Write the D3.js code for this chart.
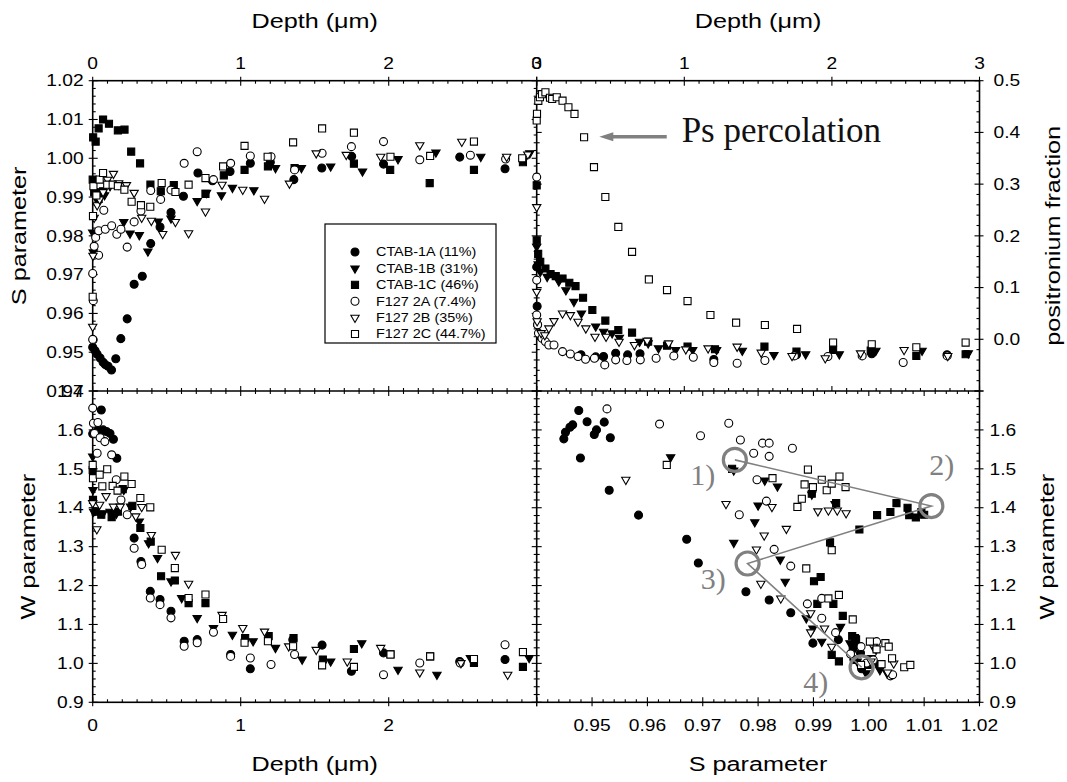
<!DOCTYPE html>
<html><head><meta charset="utf-8">
<script src="https://cdn.jsdelivr.net/npm/d3@7"></script>
<style>html,body{margin:0;padding:0;background:#fff;} svg{display:block}</style>
</head><body>
<svg id="chart" width="1067" height="782"></svg>
<script>
// ---------------- DATA ----------------
const seriesNames = ["CTAB-1A (11%)", "CTAB-1B (31%)", "CTAB-1C (46%)", "F127 2A (7.4%)", "F127 2B (35%)", "F127 2C (44.7%)"];

const depthTicks = [0, 1, 2, 3];
const sTicks = [0.94, 0.95, 0.96, 0.97, 0.98, 0.99, 1.00, 1.01, 1.02];
const wTicks = [0.9, 1.0, 1.1, 1.2, 1.3, 1.4, 1.5, 1.6, 1.7];
const fracTicks = [0.0, 0.1, 0.2, 0.3, 0.4, 0.5];

// Panel A: [depth (um), S parameter]
const sDepth1A = [[0.000,0.9513],[0.003,0.9532],[0.016,0.9504],[0.03,0.9495],[0.050,0.9485],[0.07,0.9474],[0.085,0.9468],[0.104,0.9464],[0.127,0.9454],[0.156,0.9483],[0.19,0.9535],[0.233,0.9586],[0.28,0.9675],[0.335,0.9696],[0.392,0.978],[0.455,0.9823],[0.529,0.986],[0.613,0.9902],[0.711,0.9962],[0.809,0.9942],[0.928,0.9966],[1.065,0.9987],[1.20,0.9990],[1.359,0.9945],[1.548,0.9975],[1.75,1.0005],[1.965,0.9985],[2.48,1.0003],[2.786,0.9973]];
const sDepth1B = [[0.000,0.9809],[0.004,0.9758],[0.02,0.9900],[0.05,0.9915],[0.08,0.9905],[0.117,0.9928],[0.175,0.9932],[0.21,0.9836],[0.252,0.9806],[0.315,0.9802],[0.373,0.976],[0.443,0.9837],[0.529,0.9845],[0.706,0.9890],[0.769,0.9911],[0.87,0.9905],[0.944,0.9924],[1.089,0.9918],[1.235,0.9975],[1.41,0.9975],[1.608,0.9979],[1.823,0.9966],[2.063,0.9998],[2.319,1.0015],[2.622,1.0004],[2.953,1.0013]];
const sDepth1C = [[0.000,0.9945],[0.01,0.9912],[0.003,1.0054],[0.02,1.0043],[0.04,1.0077],[0.04,0.9895],[0.07,0.9915],[0.07,1.0100],[0.11,1.0089],[0.17,1.0072],[0.215,1.0074],[0.26,1.0017],[0.32,0.9987],[0.39,0.9932],[0.46,0.9915],[0.548,0.9931],[0.762,0.9908],[0.886,0.9956],[1.026,0.997],[1.184,0.9979],[1.364,0.9975],[1.765,0.9986],[2.01,0.997],[2.277,0.9936],[2.576,0.997],[2.907,0.999]];
const sDepth2A = [[0.000,0.9703],[0.004,0.9633],[0.000,0.9533],[0.01,0.9773],[0.02,0.9796],[0.04,0.9750],[0.04,0.9813],[0.075,0.9866],[0.085,0.9817],[0.128,0.9826],[0.163,0.9804],[0.191,0.9817],[0.233,0.9771],[0.28,0.9836],[0.326,0.9864],[0.392,0.9917],[0.459,0.9894],[0.529,0.9918],[0.618,0.9987],[0.706,1.0017],[0.816,0.9945],[0.932,0.9987],[1.065,1.0006],[1.205,1.0004],[1.364,0.997],[1.55,1.0013],[1.748,1.003],[1.965,1.0043],[2.21,0.9996],[2.552,1.0008],[2.79,0.9998]];
const sDepth2B = [[0.000,0.9566],[0.002,0.9749],[0.01,0.9847],[0.03,0.9879],[0.047,0.9894],[0.07,0.9913],[0.10,0.9945],[0.14,0.996],[0.175,0.9936],[0.228,0.9931],[0.28,0.9911],[0.331,0.9847],[0.396,0.9839],[0.473,0.9805],[0.559,0.9836],[0.648,0.9807],[0.762,0.9863],[0.874,0.9932],[1.014,0.9919],[1.161,0.9896],[1.329,0.9935],[1.51,1.0013],[1.713,1.0009],[1.946,1.0004],[2.21,1.0034],[2.494,1.0043],[2.797,1.0004],[2.94,1.0010]];
const sDepth2C = [[0.000,0.9643],[0.002,0.9851],[0.005,0.9928],[0.025,0.9904],[0.047,0.9945],[0.07,0.9962],[0.098,0.9932],[0.135,0.9932],[0.17,0.9928],[0.214,0.9919],[0.263,0.9888],[0.326,0.9879],[0.389,0.9875],[0.466,0.9936],[0.559,0.9913],[0.648,0.9932],[0.762,0.9949],[0.881,0.9979],[1.026,1.0032],[1.182,1.0004],[1.354,1.0041],[1.55,1.0077],[1.765,1.0066],[2.012,1.0004],[2.28,1.0006],[2.576,1.0043],[2.902,1.000]];

// Panel B: [depth (um), positronium fraction]
const fDepth1A = [[0.000,0.140],[0.003,0.064],[0.006,0.028],[0.03,0.005],[0.30,-0.030],[0.40,-0.034],[0.453,-0.0334],[0.535,-0.027],[0.616,-0.0302],[0.70,-0.028],[1.20,-0.039],[1.76,-0.030],[2.27,-0.028],[2.78,-0.030]];
const fDepth1B = [[0.000,0.179],[0.01,0.145],[0.024,0.1305],[0.071,0.1208],[0.15,0.112],[0.198,0.0951],[0.252,0.0726],[0.303,0.05],[0.40,0.025],[0.453,0.0148],[0.511,0.0116],[0.56,0.003],[0.697,-0.0045],[0.755,-0.0077],[0.825,-0.0173],[0.941,-0.0206],[1.057,-0.0206],[1.219,-0.0206],[1.393,-0.0219],[1.607,-0.0302],[1.822,-0.0289],[2.05,-0.0289],[2.298,-0.0219],[2.611,-0.0219],[2.924,-0.027]];
const fDepth1C = [[0.000,0.2976],[0.000,0.1915],[0.01,0.165],[0.024,0.1497],[0.059,0.1369],[0.094,0.126],[0.129,0.1221],[0.175,0.1176],[0.221,0.1093],[0.263,0.1028],[0.314,0.0803],[0.377,0.0566],[0.465,0.036],[0.553,0.018],[0.646,0.0129],[0.755,-0.0045],[0.883,-0.0122],[1.022,-0.0141],[1.208,-0.0193],[1.543,-0.0141],[1.76,-0.0238],[2.008,-0.0206],[2.263,-0.0219],[2.572,-0.0321],[2.906,-0.0289]];
const fDepth2A = [[0.000,0.3136],[0.000,0.1144],[0.000,0.047],[0.006,0.028],[0.012,0.0116],[0.036,0.002],[0.059,-0.0045],[0.082,-0.011],[0.117,-0.011],[0.175,-0.0238],[0.228,-0.0283],[0.28,-0.0334],[0.331,-0.0386],[0.391,-0.0366],[0.461,-0.0495],[0.535,-0.0398],[0.611,-0.0411],[0.702,-0.0398],[0.809,-0.0366],[0.929,-0.0321],[1.061,-0.0347],[1.2,-0.045],[1.358,-0.0463],[1.546,-0.0411],[1.746,-0.0321],[1.973,-0.0334],[2.205,-0.0321],[2.483,-0.045],[2.781,-0.0321]];
const fDepth2B = [[0.000,0.2558],[0.000,0.0919],[0.003,0.035],[0.03,0.012],[0.055,0.008],[0.082,0.0212],[0.117,0.0353],[0.175,0.05],[0.228,0.0469],[0.28,0.034],[0.333,0.0212],[0.395,0.0051],[0.47,0.0051],[0.558,-0.0045],[0.662,-0.011],[0.748,-0.0026],[0.894,-0.0077],[1.01,-0.0193],[1.161,-0.0173],[1.358,-0.0141],[1.521,-0.0257],[1.73,-0.0321],[1.955,-0.0366],[2.194,-0.027],[2.489,-0.0206],[2.785,-0.0321]];
const fDepth2C = [[0.000,0.423],[0.002,0.436],[0.011,0.461],[0.022,0.468],[0.036,0.474],[0.059,0.4775],[0.09,0.467],[0.105,0.4647],[0.136,0.468],[0.175,0.4614],[0.215,0.4486],[0.256,0.4357],[0.321,0.3907],[0.388,0.3329],[0.465,0.2751],[0.553,0.2172],[0.646,0.169],[0.76,0.1157],[0.883,0.0951],[1.022,0.0739],[1.177,0.0469],[1.351,0.0321],[1.546,0.0276],[1.764,0.02],[2.008,-0.0064],[2.27,-0.0096],[2.572,-0.0154],[2.906,-0.0064]];

// Panel C: [depth (um), W parameter]
const wDepth1A = [[0.000,1.59],[0.035,1.60],[0.058,1.651],[0.07,1.60],[0.093,1.596],[0.117,1.591],[0.14,1.576],[0.163,1.527],[0.28,1.322],[0.326,1.262],[0.389,1.185],[0.455,1.164],[0.529,1.134],[0.618,1.057],[0.706,1.061],[0.932,1.023],[1.065,0.986],[1.352,1.061],[1.55,1.047],[1.748,0.98],[1.965,1.027],[2.48,1.005],[2.786,1.01]];
const wDepth1B = [[0.000,1.532],[0.002,1.446],[0.006,1.39],[0.07,1.386],[0.117,1.39],[0.16,1.385],[0.21,1.446],[0.256,1.403],[0.315,1.365],[0.378,1.309],[0.438,1.271],[0.529,1.211],[0.601,1.168],[0.706,1.117],[0.816,1.091],[0.944,1.074],[1.084,1.057],[1.235,1.04],[1.415,1.01],[1.608,1.005],[1.818,1.052],[2.063,0.984],[2.326,0.971],[2.552,1.014],[2.949,1.014]];
const wDepth1C = [[0.000,1.497],[0.002,1.42],[0.02,1.39],[0.058,1.382],[0.128,1.376],[0.17,1.39],[0.203,1.448],[0.268,1.405],[0.322,1.348],[0.392,1.313],[0.462,1.224],[0.555,1.213],[0.648,1.155],[0.762,1.155],[1.03,1.065],[1.189,1.07],[1.357,1.065],[1.555,1.01],[1.765,1.037],[2.012,1.023],[2.28,1.018],[2.576,1.001],[2.907,0.991]];
const wDepth2A = [[0.000,1.656],[0.005,1.617],[0.012,1.591],[0.035,1.619],[0.03,1.54],[0.05,1.58],[0.082,1.57],[0.128,1.536],[0.159,1.472],[0.191,1.42],[0.233,1.382],[0.28,1.296],[0.331,1.254],[0.389,1.168],[0.455,1.151],[0.529,1.117],[0.618,1.044],[0.706,1.053],[0.816,1.08],[0.932,1.018],[1.065,1.014],[1.205,0.997],[1.364,1.023],[1.965,0.971],[2.21,1.001],[2.483,1.001],[2.786,1.048]];
const wDepth2B = [[0.000,1.412],[0.028,1.345],[0.047,1.408],[0.09,1.43],[0.14,1.403],[0.186,1.403],[0.291,1.378],[0.331,1.402],[0.396,1.33],[0.559,1.279],[0.648,1.205],[0.874,1.125],[1.014,1.091],[1.161,1.082],[1.324,1.044],[1.51,1.035],[1.72,1.005],[1.946,1.04],[2.21,0.977],[2.488,1.001],[2.804,0.971]];
const wDepth2C = [[0.000,1.51],[0.002,1.476],[0.047,1.485],[0.065,1.455],[0.098,1.499],[0.135,1.456],[0.168,1.444],[0.214,1.48],[0.263,1.461],[0.322,1.425],[0.389,1.401],[0.466,1.292],[0.555,1.245],[0.648,1.168],[0.762,1.177],[0.881,1.114],[1.026,1.053],[1.184,1.057],[1.354,1.044],[1.55,0.995],[1.765,0.991],[2.012,1.023],[2.28,1.018],[2.576,1.011],[2.907,1.029]];

// Panel D: [S parameter, W parameter]
const sw1A = [[0.9449,1.577],[0.9452,1.594],[0.9460,1.607],[0.9465,1.613],[0.9476,1.650],[0.9479,1.528],[0.9491,1.621],[0.9504,1.588],[0.9508,1.600],[0.9522,1.620],[0.9533,1.580],[0.9531,1.445],[0.9584,1.381],[0.9671,1.319],[0.9692,1.258],[0.9778,1.184],[0.9820,1.163],[0.9859,1.130],[0.9899,1.052],[0.9945,1.061],[0.9975,1.047],[0.9987,0.986],[0.9985,1.027],[1.0003,1.005],[0.9973,1.010]];
const sw1B = [[0.9642,1.530],[0.9756,1.496],[0.9812,1.470],[0.9835,1.455],[0.9800,1.406],[0.9794,1.363],[0.9756,1.310],[0.9840,1.267],[0.9849,1.210],[0.9887,1.116],[0.9899,1.090],[0.9915,1.056],[0.9949,1.094],[0.9897,1.434],[0.9939,1.410],[1.0014,1.000],[1.0020,0.983],[0.9995,0.975],[1.0033,0.975],[0.9975,1.040],[0.9979,1.005],[0.9966,1.052],[1.0004,1.014]];
const sw1C = [[0.9753,1.500],[0.9897,1.436],[0.9941,1.412],[0.9983,1.344],[1.0015,1.381],[1.0039,1.389],[1.0050,1.412],[1.0070,1.400],[1.0073,1.381],[1.0085,1.375],[1.0095,1.389],[1.0100,1.382],[0.9930,1.311],[0.9901,1.211],[0.9913,1.222],[0.9907,1.153],[0.9936,1.153],[0.9953,1.122],[0.9977,1.062],[0.9933,1.022],[0.9946,1.005],[0.9971,1.043],[1.0002,0.996],[0.9975,1.065],[0.9970,1.070]];
const sw2A = [[0.9527,1.654],[0.9622,1.615],[0.9696,1.585],[0.9747,1.617],[0.9768,1.574],[0.9792,1.540],[0.9808,1.566],[0.9820,1.566],[0.9820,1.532],[0.9862,1.553],[0.9798,1.472],[0.9815,1.417],[0.9766,1.382],[0.9829,1.293],[0.9859,1.250],[0.9889,1.153],[0.9915,1.167],[0.9915,1.116],[0.9940,1.079],[0.9967,1.024],[0.9986,1.043],[1.0014,1.056],[1.0039,0.968],[1.0008,1.009],[0.9996,1.001],[1.0043,0.971]];
const sw2B = [[0.9561,1.472],[0.9742,1.410],[0.9825,1.402],[0.9811,1.329],[0.9851,1.346],[0.9797,1.293],[0.9805,1.205],[0.9841,1.167],[0.9895,1.129],[0.9920,1.090],[0.9895,1.080],[0.9908,1.391],[0.9927,1.393],[0.9943,1.393],[0.9959,1.386],[0.9933,1.043],[1.0008,1.043],[1.0045,1.000],[1.0013,1.035],[1.0004,1.005],[1.0034,0.977]];
const sw2C = [[0.9635,1.510],[0.9826,1.476],[0.9871,1.402],[0.9879,1.423],[0.9884,1.460],[0.9890,1.498],[0.9899,1.453],[0.9915,1.472],[0.9924,1.445],[0.9933,1.462],[0.9947,1.480],[0.9958,1.453],[0.9933,1.291],[0.9887,1.244],[0.9927,1.167],[0.9946,1.176],[0.9971,1.113],[1.0002,1.056],[1.0014,1.036],[1.0030,1.052],[1.0036,1.043],[1.0042,1.013],[1.0023,0.998],[1.0064,0.990],[1.0075,0.996],[0.9986,0.996]];

// Annotations (panel D): circled stages and labels
const stageS = [0.9758, 1.0113, 0.9781, 0.9987];
const stageW = [1.523, 1.4044, 1.2567, 0.990];
const stageLabels = ["1)", "2)", "3)", "4)"];
const stageLabelS = [0.9700, 1.0132, 0.9719, 0.9904];
const stageLabelW = [1.483, 1.509, 1.218, 0.951];
// Annotation (panel B): arrow and text
const psArrowDepth = [0.881, 0.424];
const psArrowFrac = 0.3917;
const psText = "Ps percolation";

// ---------------- LAYOUT ----------------
const L = 92.7, M = 536.7, R = 979.5, T = 80.7, H = 391, B = 702.3;
const SANS = "'Liberation Sans', Arial, Helvetica, sans-serif";
const SERIF = "'Liberation Serif', 'Times New Roman', serif";
const SX = 1.2; // horizontal widening of sans glyphs

const xDepL = d3.scaleLinear().domain([0, 3]).range([L, M]);
const xDepR = d3.scaleLinear().domain([0, 3]).range([M, R]);
const xS = d3.scaleLinear().domain([0.94, 1.02]).range([M, R]);
const yS = d3.scaleLinear().domain([0.94, 1.02]).range([H, T]);
const yF = d3.scaleLinear().domain([-0.1, 0.5]).range([H, T]);
const yW = d3.scaleLinear().domain([0.9, 1.7]).range([B, H]);

const svg = d3.select("#chart");
svg.append("rect").attr("width", 1067).attr("height", 782).attr("fill", "#fff");

function txt(g, x, y, s, o) {
  o = o || {};
  let tr = `translate(${x},${y})`;
  if (o.rot) tr += ` rotate(${o.rot})`;
  tr += ` scale(${o.sx || 1},1)`;
  return g.append("text").attr("transform", tr)
    .attr("text-anchor", o.anchor || "start")
    .attr("font-family", o.family || SANS)
    .attr("font-size", o.size || 16)
    .attr("fill", o.fill || "#000")
    .text(s);
}

function minorVals(d0, d1, step, majors) {
  const n = Math.round((d1 - d0) / step);
  const out = [];
  for (let i = 0; i <= n; i++) {
    const v = +(d0 + i * step).toFixed(6);
    if (!majors.some(m => Math.abs(m - v) < step / 10)) out.push(v);
  }
  return out;
}

const tickG = svg.append("g").attr("stroke", "#000").attr("stroke-width", 1.1);
const MAJ = 5, MIN = 3;
function vTicks(x, scale, majors, minors, dir, out) {
  majors.forEach(v => { const y = scale(v);
    tickG.append("line").attr("x1", x - dir * out).attr("x2", x + dir * MAJ).attr("y1", y).attr("y2", y); });
  minors.forEach(v => { const y = scale(v);
    tickG.append("line").attr("x1", x).attr("x2", x + dir * MIN).attr("y1", y).attr("y2", y); });
}
function hTicks(y, scale, majors, minors, dir, out) {
  majors.forEach(v => { const x = scale(v);
    tickG.append("line").attr("y1", y - dir * out).attr("y2", y + dir * MAJ).attr("x1", x).attr("x2", x); });
  minors.forEach(v => { const x = scale(v);
    tickG.append("line").attr("y1", y).attr("y2", y + dir * MIN).attr("x1", x).attr("x2", x); });
}

const depMinor = minorVals(0, 3, 0.1, depthTicks);
const sMinor = minorVals(0.94, 1.02, 0.002, sTicks);
const wMinor = minorVals(0.9, 1.7, 0.02, wTicks);
const fMajorAll = [-0.1].concat(fracTicks);
const fMinor = minorVals(-0.1, 0.5, 0.02, fMajorAll);

// Panel A (top-left)
hTicks(T, xDepL, depthTicks, depMinor, +1, 4);
hTicks(H, xDepL, depthTicks, depMinor, -1, 0);
vTicks(L, yS, sTicks, sMinor, +1, 4);
vTicks(M, yS, sTicks, sMinor, -1, 0);
// Panel B (top-right)
hTicks(T, xDepR, depthTicks, depMinor, +1, 4);
hTicks(H, xDepR, depthTicks, depMinor, -1, 0);
vTicks(R, yF, fMajorAll, fMinor, -1, 4);
vTicks(M, yF, fMajorAll, fMinor, +1, 0);
// Panel C (bottom-left)
hTicks(B, xDepL, depthTicks, depMinor, -1, 4);
hTicks(H, xDepL, depthTicks, depMinor, +1, 0);
vTicks(L, yW, wTicks, wMinor, +1, 4);
vTicks(M, yW, wTicks, wMinor, -1, 0);
// Panel D (bottom-right)
hTicks(B, xS, sTicks, sMinor, -1, 4);
hTicks(H, xS, sTicks, sMinor, +1, 0);
vTicks(R, yW, wTicks, wMinor, -1, 4);
vTicks(M, yW, wTicks, wMinor, +1, 0);

// Frame
const frame = svg.append("g").attr("stroke", "#000").attr("stroke-width", 1.6).attr("fill", "none");
frame.append("rect").attr("x", L).attr("y", T).attr("width", R - L).attr("height", B - T);
frame.append("line").attr("x1", M).attr("x2", M).attr("y1", T).attr("y2", B);
frame.append("line").attr("x1", L).attr("x2", R).attr("y1", H).attr("y2", H);

// Tick labels
const lab = svg.append("g");
depthTicks.forEach(v => txt(lab, xDepL(v), T - 12, d3.format("d")(v), {anchor: "middle", size: 16, sx: SX}));
depthTicks.forEach(v => txt(lab, xDepR(v), T - 12, d3.format("d")(v), {anchor: "middle", size: 16, sx: SX}));
depthTicks.filter(v => v < 3).forEach(v => txt(lab, xDepL(v), B + 29, d3.format("d")(v), {anchor: "middle", size: 16, sx: SX}));
sTicks.filter(v => v > 0.945).forEach(v => txt(lab, xS(v), B + 29, d3.format(".2f")(v), {anchor: "middle", size: 16, sx: SX}));
sTicks.forEach(v => txt(lab, L - 9, yS(v) + 5.7, d3.format(".2f")(v), {anchor: "end", size: 16, sx: SX}));
wTicks.forEach(v => txt(lab, L - 9, yW(v) + 5.7, d3.format(".1f")(v), {anchor: "end", size: 16, sx: SX}));
fracTicks.forEach(v => txt(lab, R + 14, yF(v) + 5.7, d3.format(".1f")(v), {anchor: "start", size: 16, sx: SX}));
wTicks.filter(v => v < 1.65).forEach(v => txt(lab, R + 10, yW(v) + 5.7, d3.format(".1f")(v), {anchor: "start", size: 16, sx: SX}));

// Axis titles
txt(lab, (L + M) / 2, 28, "Depth (\u03bcm)", {anchor: "middle", size: 21, sx: SX});
txt(lab, (M + R) / 2, 28, "Depth (\u03bcm)", {anchor: "middle", size: 21, sx: SX});
txt(lab, (L + M) / 2, 771, "Depth (\u03bcm)", {anchor: "middle", size: 21, sx: SX});
txt(lab, (M + R) / 2, 771, "S parameter", {anchor: "middle", size: 21, sx: SX});
txt(lab, 26, (T + H) / 2, "S parameter", {anchor: "middle", size: 21, sx: SX, rot: -90});
txt(lab, 35, (H + B) / 2, "W parameter", {anchor: "middle", size: 21, sx: SX, rot: -90});
txt(lab, 1060, (T + H) / 2, "positronium fraction", {anchor: "middle", size: 21, sx: SX, rot: -90});
txt(lab, 1054, (H + B) / 2, "W parameter", {anchor: "middle", size: 21, sx: SX, rot: -90});

// Markers
const styles = [
  {type: d3.symbolCircle, size: 50, fill: "#000", rot: 0},
  {type: d3.symbolTriangle, size: 30, fill: "#000", rot: 180},
  {type: d3.symbolSquare, size: 50, fill: "#000", rot: 0},
  {type: d3.symbolCircle, size: 50, fill: "#fff", rot: 0},
  {type: d3.symbolTriangle, size: 30, fill: "#fff", rot: 180},
  {type: d3.symbolSquare, size: 50, fill: "#fff", rot: 0}
];
function drawSeries(g, data, xs, ys, st) {
  const path = d3.symbol().type(st.type).size(st.size)();
  g.selectAll(null).data(data).enter().append("path")
    .attr("d", path)
    .attr("transform", d => `translate(${xs(d[0])},${ys(d[1])}) rotate(${st.rot})`)
    .attr("fill", st.fill).attr("stroke", "#000").attr("stroke-width", 1.1);
}
const panelA = [sDepth1A, sDepth1B, sDepth1C, sDepth2A, sDepth2B, sDepth2C];
const panelB = [fDepth1A, fDepth1B, fDepth1C, fDepth2A, fDepth2B, fDepth2C];
const panelC = [wDepth1A, wDepth1B, wDepth1C, wDepth2A, wDepth2B, wDepth2C];
const panelD = [sw1A, sw1B, sw1C, sw2A, sw2B, sw2C];
const mk = svg.append("g");
panelA.forEach((d, i) => drawSeries(mk, d, xDepL, yS, styles[i]));
panelB.forEach((d, i) => drawSeries(mk, d, xDepR, yF, styles[i]));
panelC.forEach((d, i) => drawSeries(mk, d, xDepL, yW, styles[i]));
panelD.forEach((d, i) => drawSeries(mk, d, xS, yW, styles[i]));

// Legend
const lg = svg.append("g");
lg.append("rect").attr("x", 325).attr("y", 224).attr("width", 171).attr("height", 119)
  .attr("fill", "#fff").attr("stroke", "#000").attr("stroke-width", 1.2);
seriesNames.forEach((name, i) => {
  const y = 252 + i * 16.4;
  const st = styles[i];
  lg.append("path").attr("d", d3.symbol().type(st.type).size(st.size)())
    .attr("transform", `translate(355,${y}) rotate(${st.rot})`)
    .attr("fill", st.fill).attr("stroke", "#000").attr("stroke-width", 1.1);
  txt(lg, 376, y + 4.3, name, {size: 12, sx: SX});
});

// Ps percolation annotation
const GRAY = "#808080";
const an = svg.append("g");
const ay = yF(psArrowFrac);
const ax0 = xDepR(psArrowDepth[0]), ax1 = xDepR(psArrowDepth[1]);
an.append("line").attr("x1", ax0).attr("x2", ax1 + 12).attr("y1", ay).attr("y2", ay)
  .attr("stroke", GRAY).attr("stroke-width", 3.5);
an.append("path").attr("d", `M${ax1},${ay} L${ax1 + 14},${ay - 4.5} L${ax1 + 14},${ay + 4.5} Z`).attr("fill", GRAY);
txt(an, xDepR(0.982), ay + 5, psText, {size: 35, family: SERIF, fill: "#111"});

// Stage path in S-W plane
const stageLine = d3.line().x(d => xS(d[0])).y(d => yW(d[1]));
const stagePts = stageS.map((s, i) => [s, stageW[i]]);
an.append("path").attr("d", stageLine(stagePts)).attr("fill", "none").attr("stroke", GRAY).attr("stroke-width", 1.6);
stagePts.forEach(p => an.append("circle").attr("cx", xS(p[0])).attr("cy", yW(p[1])).attr("r", 11.5)
  .attr("fill", "none").attr("stroke", GRAY).attr("stroke-width", 3.2));
stageLabels.forEach((t, i) => txt(an, xS(stageLabelS[i]), yW(stageLabelW[i]) + 10, t,
  {anchor: "middle", size: 30, family: SERIF, fill: GRAY}));
</script></body></html>
